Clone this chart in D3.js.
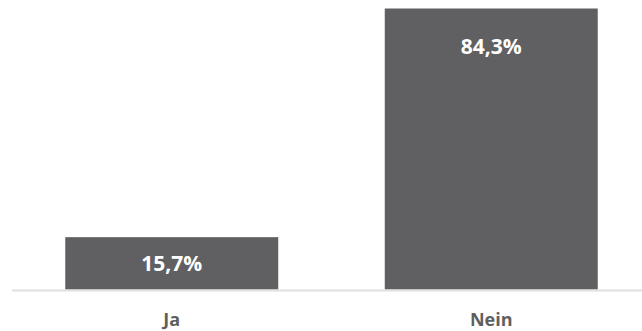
<!DOCTYPE html>
<html>
<head>
<meta charset="utf-8">
<script src="https://cdn.jsdelivr.net/npm/d3@7"></script>
<style>
  body { margin: 0; background: #fff; }
  text { font-family: "Open Sans", sans-serif; font-weight: bold; }
</style>
</head>
<body>
<div id="chart"></div>
<script>
var categories = ["Ja", "Nein"];
var values = [15.7, 84.3];
var valueLabels = ["15,7%", "84,3%"];

var width = 642,
    height = 331,
    baseY = 289.5;

var svg = d3.select("#chart")
            .append("svg")
                .attr("width", width)
                .attr("height", height);

var x = d3.scaleBand()
    .domain(categories)
    .range([12, 651])
    .paddingInner(1 / 3)
    .paddingOuter(1 / 6);

var y = d3.scaleLinear()
    .domain([0, 84.3])
    .range([baseY, 8.5]);

var data = categories.map(function(c, i) {
    return {cat: c, val: values[i], label: valueLabels[i]};
});

svg.selectAll(".bar")
    .data(data)
  .enter().append("rect")
    .attr("class", "bar")
    .attr("x", function(d) { return x(d.cat); })
    .attr("y", function(d) { return y(d.val); })
    .attr("width", x.bandwidth())
    .attr("height", function(d) { return baseY - y(d.val); })
    .attr("fill", "#606062");

// baseline
svg.append("line")
    .attr("x1", 12)
    .attr("x2", width)
    .attr("y1", baseY + 1)
    .attr("y2", baseY + 1)
    .attr("stroke", "#e0e0e0")
    .attr("stroke-width", 2);

svg.selectAll(".value")
    .data(data)
  .enter().append("text")
    .attr("class", "value")
    .attr("x", function(d) { return x(d.cat) + x.bandwidth() / 2; })
    .attr("y", function(d) {
        var top = y(d.val);
        return Math.min(top + 38, (top + baseY) / 2);
    })
    .attr("dy", "0.35em")
    .attr("text-anchor", "middle")
    .attr("fill", "#ffffff")
    .style("font-size", "21px")
    .text(function(d) { return d.label; });

svg.selectAll(".cat")
    .data(data)
  .enter().append("text")
    .attr("class", "cat")
    .attr("x", function(d) { return x(d.cat) + x.bandwidth() / 2; })
    .attr("y", 320)
    .attr("dy", "0.35em")
    .attr("text-anchor", "middle")
    .attr("fill", "#5f5f5f")
    .style("font-size", "18px")
    .text(function(d) { return d.cat; });
</script>
</body>
</html>
